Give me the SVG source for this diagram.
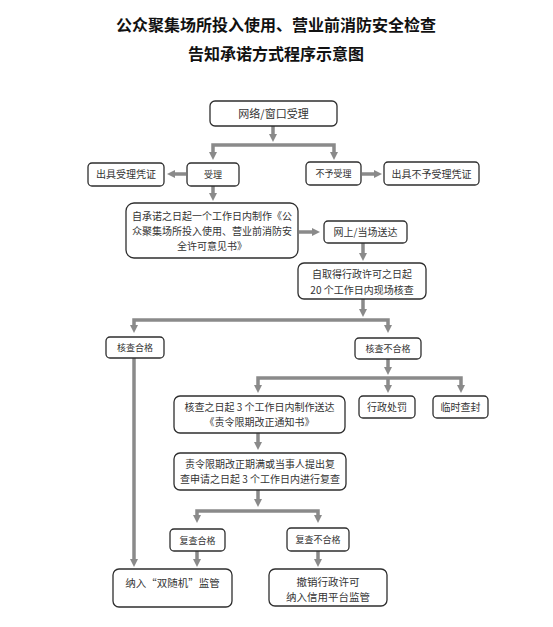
<svg xmlns="http://www.w3.org/2000/svg" width="553" height="627" viewBox="0 0 553 627">
<style>
.bg{fill:#ffffff}
.title{font-family:"Noto Sans CJK SC","Noto Sans",sans-serif;font-weight:bold;font-size:16px;fill:#111;text-anchor:middle}
.box{fill:#ffffff;stroke:#2e2e2e;stroke-width:1.3}
.t{font-family:"Noto Sans CJK SC","Noto Sans",sans-serif;font-size:10px;fill:#333;text-anchor:middle}
.t9{font-size:9px}
.t11{font-size:11px}
.t105{font-size:10.5px}
.c{fill:none;stroke:#8a8a8a;stroke-width:3.5;stroke-linejoin:miter}
</style>
<defs>
<marker id="ah" markerUnits="userSpaceOnUse" markerWidth="9" markerHeight="9" refX="2" refY="4" orient="auto-start-reverse">
<path d="M0,0 L8,4 L0,8 z" fill="#8a8a8a"/>
</marker>
</defs>
<rect class="bg" x="0" y="0" width="553" height="627"/>
<text class="title" x="276" y="31">公众聚集场所投入使用、营业前消防安全检查</text>
<text class="title" x="276" y="60">告知承诺方式程序示意图</text>

<g id="connectors">
<path class="c" d="M273,126 V136" marker-end="url(#ah)"/>
<path class="c" d="M213,154 V145 H334 V154" marker-start="url(#ah)" marker-end="url(#ah)"/>
<path class="c" d="M186,174 H173" marker-end="url(#ah)"/>
<path class="c" d="M362,174 H376" marker-end="url(#ah)"/>
<path class="c" d="M213,186 V195" marker-end="url(#ah)"/>
<path class="c" d="M299,232 H314" marker-end="url(#ah)"/>
<path class="c" d="M363,243 V255" marker-end="url(#ah)"/>
<path class="c" d="M363,299 V311" marker-end="url(#ah)"/>
<path class="c" d="M134,327 V320 H388 V327" marker-start="url(#ah)" marker-end="url(#ah)"/>
<path class="c" d="M134,358 V561" marker-end="url(#ah)"/>
<path class="c" d="M388,359 V369" marker-end="url(#ah)"/>
<path class="c" d="M258,387 V378 H461 V387" marker-start="url(#ah)" marker-end="url(#ah)"/>
<path class="c" d="M388,378 V387" marker-end="url(#ah)"/>
<path class="c" d="M258,433 V444" marker-end="url(#ah)"/>
<path class="c" d="M258,490 V501" marker-end="url(#ah)"/>
<path class="c" d="M197,517 V511 H318 V517" marker-start="url(#ah)" marker-end="url(#ah)"/>
<path class="c" d="M197,551 V561" marker-end="url(#ah)"/>
<path class="c" d="M318,551 V561" marker-end="url(#ah)"/>
</g>

<g id="n-accept-entry">
<rect class="box" x="210" y="101" width="127" height="25" rx="5"/>
<text class="t t11" x="273.5" y="117.5">网络/窗口受理</text>
</g>
<g id="n-accept">
<rect class="box" x="187" y="163" width="52" height="23" rx="4"/>
<text class="t t9" x="213" y="178">受理</text>
</g>
<g id="n-accept-cert">
<rect class="box" x="88" y="163" width="76" height="23" rx="4"/>
<text class="t" x="126" y="178">出具受理凭证</text>
</g>
<g id="n-reject">
<rect class="box" x="306" y="162" width="55" height="23" rx="4"/>
<text class="t t9" x="333.5" y="177">不予受理</text>
</g>
<g id="n-reject-cert">
<rect class="box" x="384" y="162" width="95" height="23" rx="4"/>
<text class="t" x="431.5" y="177.5">出具不予受理凭证</text>
</g>
<g id="n-opinion">
<rect class="box" x="126" y="203" width="172" height="55" rx="8"/>
<text class="t" x="212" y="219.5">自承诺之日起一个工作日内制作《公</text>
<text class="t" x="212" y="234.5">众聚集场所投入使用、营业前消防安</text>
<text class="t" x="212" y="249.5">全许可意见书》</text>
</g>
<g id="n-deliver">
<rect class="box" x="324" y="221" width="83" height="22" rx="4"/>
<text class="t" x="365.5" y="235.5">网上/当场送达</text>
</g>
<g id="n-inspect">
<rect class="box" x="298" y="263" width="128" height="36" rx="6"/>
<text class="t" x="362" y="277.5">自取得行政许可之日起</text>
<text class="t" x="362" y="293.5">20 个工作日内现场核查</text>
</g>
<g id="n-pass">
<rect class="box" x="106" y="337" width="58" height="21" rx="4"/>
<text class="t t9" x="135" y="350.5">核查合格</text>
</g>
<g id="n-fail">
<rect class="box" x="355" y="338" width="66" height="21" rx="4"/>
<text class="t t9" x="388" y="351.5">核查不合格</text>
</g>
<g id="n-notice">
<rect class="box" x="174" y="396" width="171" height="37" rx="6"/>
<text class="t" x="259.5" y="411">核查之日起 3 个工作日内制作送达</text>
<text class="t" x="259.5" y="426">《责令限期改正通知书》</text>
</g>
<g id="n-penalty">
<rect class="box" x="359" y="396" width="56" height="22" rx="4"/>
<text class="t" x="387" y="410.5">行政处罚</text>
</g>
<g id="n-seal">
<rect class="box" x="433" y="396" width="55" height="22" rx="4"/>
<text class="t" x="460.5" y="410.5">临时查封</text>
</g>
<g id="n-recheck">
<rect class="box" x="174" y="453" width="172" height="37" rx="6"/>
<text class="t" x="260" y="468">责令限期改正期满或当事人提出复</text>
<text class="t" x="260" y="483">查申请之日起 3 个工作日内进行复查</text>
</g>
<g id="n-recheck-pass">
<rect class="box" x="170" y="529" width="55" height="22" rx="4"/>
<text class="t t9" x="197.5" y="543.5">复查合格</text>
</g>
<g id="n-recheck-fail">
<rect class="box" x="287" y="528" width="62" height="23" rx="4"/>
<text class="t t9" x="318" y="543">复查不合格</text>
</g>
<g id="n-random">
<rect class="box" x="113" y="569" width="119" height="38" rx="6"/>
<text class="t t105" x="172.5" y="587">纳入“双随机”监管</text>
</g>
<g id="n-revoke">
<rect class="box" x="269" y="569" width="118" height="37" rx="6"/>
<text class="t t105" x="328" y="585.5">撤销行政许可</text>
<text class="t t105" x="328" y="601">纳入信用平台监管</text>
</g>
</svg>
